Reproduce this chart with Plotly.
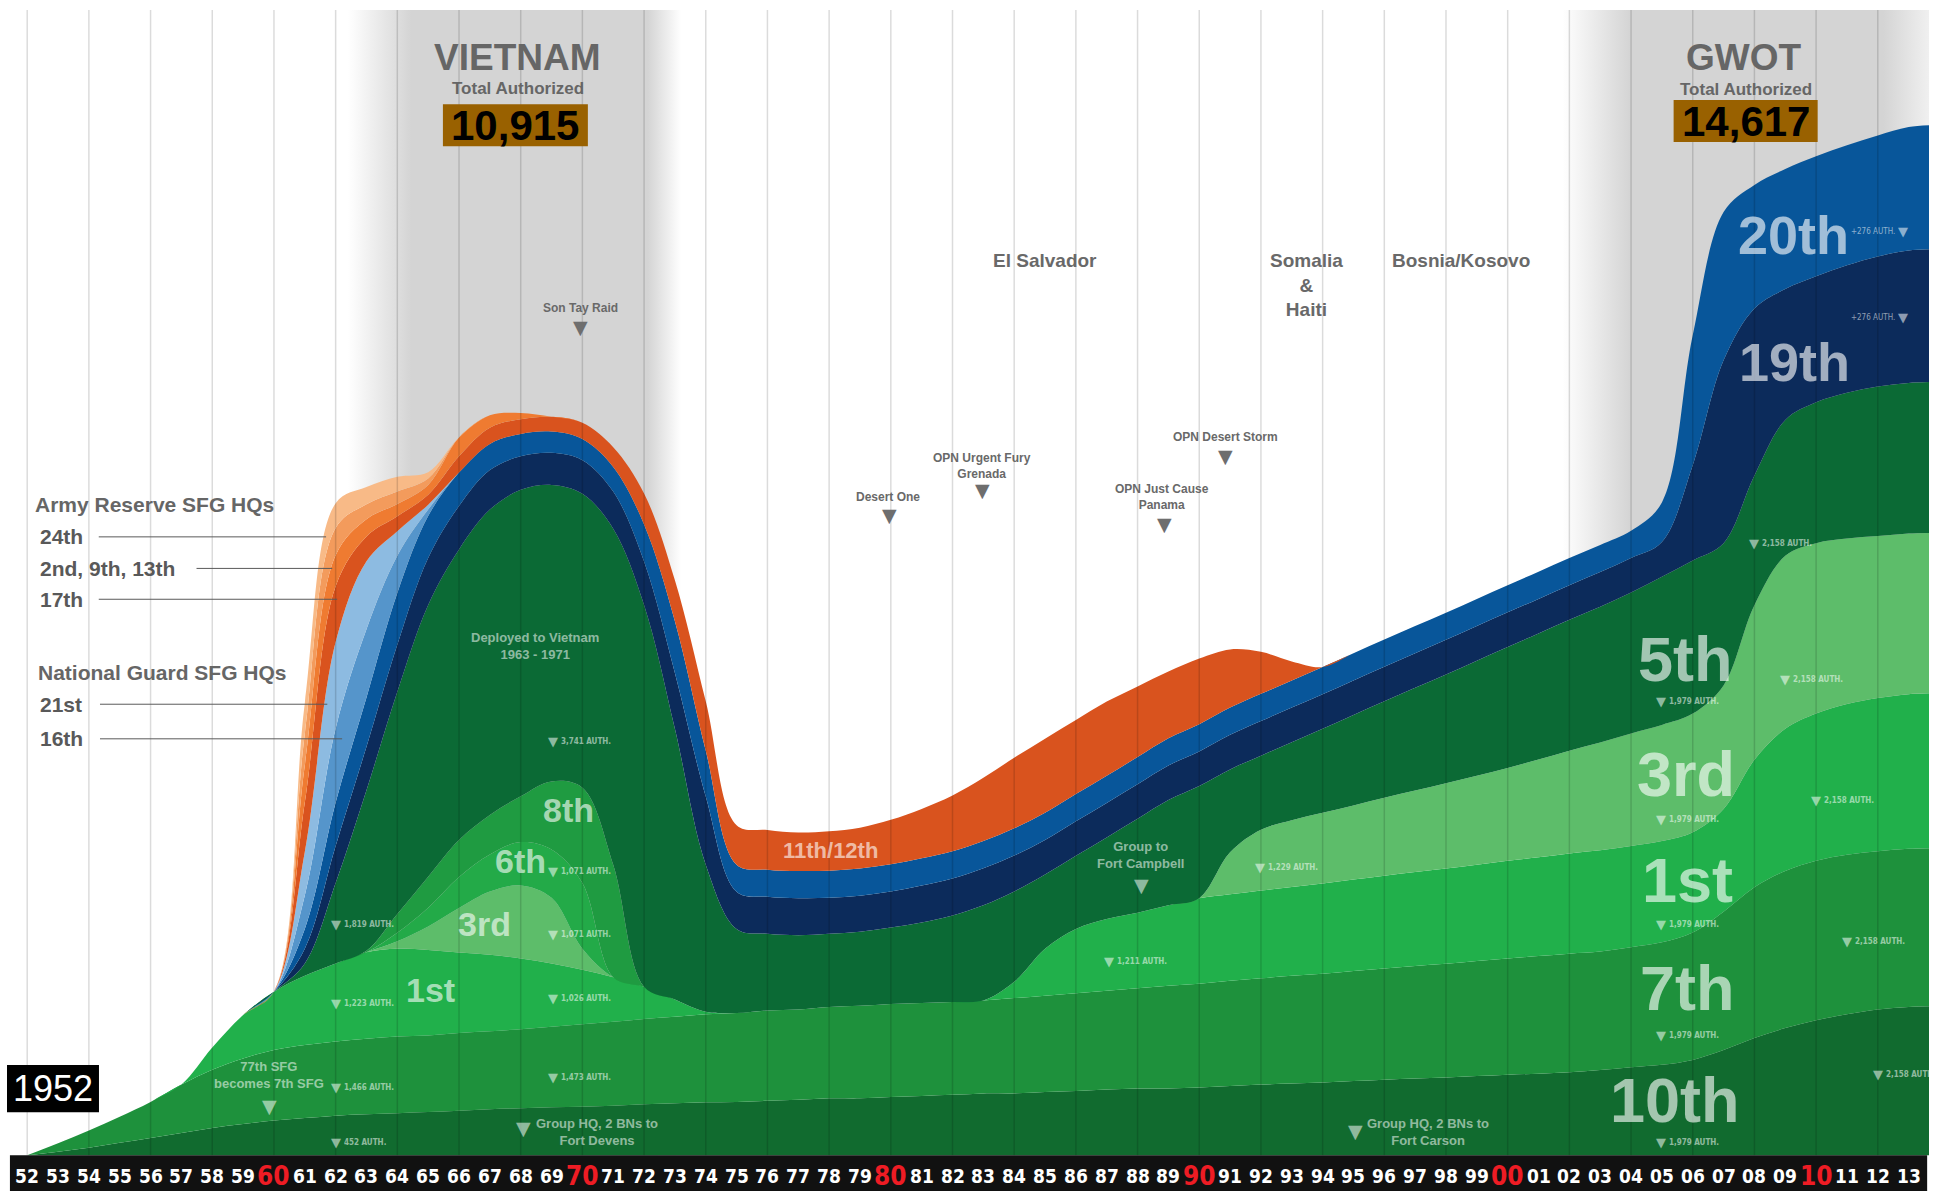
import plotly.graph_objects as go

# ---------------------------------------------------------------- data
# x positions: 1952 ... 2013, plus 2014 = right edge of the drawing
YEARS = list(range(1952, 2015))

YEAR_LABELS = ["52", "53", "54", "55", "56", "57", "58", "59", "60", "61",
               "62", "63", "64", "65", "66", "67", "68", "69", "70", "71",
               "72", "73", "74", "75", "76", "77", "78", "79", "80", "81",
               "82", "83", "84", "85", "86", "87", "88", "89", "90", "91",
               "92", "93", "94", "95", "96", "97", "98", "99", "00", "01",
               "02", "03", "04", "05", "06", "07", "08", "09", "10", "11",
               "12", "13"]
LABEL_YEARS = list(range(1952, 2014))
RED_LABELS = ["60", "70", "80", "90", "00", "10"]

# authorized strength per group
SFG_10TH = [0, 50, 105, 175, 245, 315, 385, 440, 490, 525,
            560, 580, 595, 610, 630, 650, 665, 680, 685, 700,
            720, 735, 750, 755, 770, 785, 805, 805, 825, 840,
            855, 875, 875, 895, 910, 930, 945, 945, 960, 980,
            1000, 1015, 1030, 1050, 1070, 1085, 1100, 1120, 1140, 1155,
            1175, 1205, 1245, 1280, 1350, 1490, 1660, 1800, 1910, 1995,
            2065, 2100, 2110]
SFG_7TH = [0, 120, 245, 370, 510, 685, 825, 930, 1000, 1035,
           1050, 1070, 1085, 1085, 1100, 1105, 1120, 1140, 1170, 1190,
           1210, 1225, 1245, 1260, 1280, 1280, 1295, 1310, 1315, 1315,
           1315, 1315, 1350, 1365, 1385, 1400, 1420, 1455, 1470, 1490,
           1505, 1525, 1540, 1560, 1575, 1595, 1610, 1630, 1645, 1665,
           1680, 1680, 1700, 1735, 1805, 1960, 2135, 2225, 2260, 2260,
           2240, 2240, 2240]
SFG_1ST = [0, 0, 0, 0, 0, 0, 315, 615, 825, 980,
           1105, 1225, 1245, 1210, 1140, 1085, 1000, 895, 770, 630,
           455, 245, 35, 0, 0, 0, 0, 0, 0, 0,
           0, 0, 230, 665, 910, 1015, 1070, 1140, 1210, 1225,
           1245, 1260, 1280, 1295, 1315, 1330, 1350, 1365, 1385, 1400,
           1420, 1435, 1435, 1435, 1420, 1455, 1805, 2015, 2085, 2135,
           2170, 2190, 2195]
SFG_3RD = ([0] * 12 + [105, 335, 630, 895, 1035, 930, 300] + [0] * 20 + [595] +
           [860, 945, 1000, 1050, 1105, 1155, 1210, 1260, 1315, 1385] +
           [1455, 1525, 1595, 1645, 1680, 1750, 2190, 2450, 2415, 2345] +
           [2295, 2275, 2270])
SFG_6TH = [0] * 10 + [0, 0, 120, 265, 440, 525, 615, 685, 930, 0] + [0] * 43
SFG_8TH = [0] * 10 + [0, 20, 265, 440, 525, 560, 650, 965, 1350, 1595] + [0] * 43
SFG_5TH = [0, 0, 0, 0, 0, 0, 0, 0, 0, 175,
           1140, 2275, 3150, 3850, 4115, 4325, 4340, 4200, 4165, 4760,
           5410, 3835, 2085, 1190, 1085, 1050, 1035, 1050, 1085, 1140,
           1225, 1350, 1280, 1050, 1035, 1155, 1330, 1490, 1590, 1175,
           1050, 1105, 1190, 1280, 1365, 1455, 1540, 1630, 1715, 1785,
           1855, 1925, 1995, 2100, 2170, 2015, 1840, 1925, 1995, 2065,
           2120, 2135, 2140]
SFG_19TH = ([0] * 9 + [210] +
            [525, 615, 665, 665, 615, 560, 475, 455, 475, 525] +
            [615, 790, 965, 525, 525, 525, 510, 510, 510, 525] +
            [525, 525, 510, 490, 490, 490, 490, 490, 490, 490] +
            [490] * 10 +
            [490, 490, 490, 490, 1350, 2590, 2365, 1855, 1785, 1805] +
            [1840, 1875, 1880])
SFG_20TH = ([0] * 9 + [280] +
            [615, 700, 735, 595, 475, 370, 315, 300, 300, 350] +
            [525, 735, 650, 385, 385, 385, 385, 385, 385, 385] +
            [385] * 20 +
            [385, 385, 385, 560, 1840, 2100, 1750, 1700, 1700, 1700] +
            [1715, 1750, 1760])
NG_16TH = [0] * 9 + [475] + [1050, 965, 525, 90] + [0] * 49
NG_21ST = [0] * 9 + [615] + [1225, 965, 350, 70] + [0] * 49
AR_17TH = ([0] * 9 + [700] +
           [790, 350, 210, 140, 230, 230, 210, 210, 230, 280] +
           [440, 580, 700, 560, 560, 545, 560, 580, 630, 700] +
           [790, 895, 1000, 1050, 1050, 1050, 1000, 945, 930, 825] +
           [595, 270] + [0] * 21)
AR_2ND_9TH_13TH_A = [0] * 9 + [525] + [440, 245, 175, 140, 265, 175, 90] + [0] * 46
AR_2ND_9TH_13TH_B = [0] * 9 + [440] + [385, 210, 175, 90] + [0] * 49
AR_24TH = [0] * 9 + [440] + [350, 245, 210, 90] + [0] * 49

LAYERS = [
    ("10th SFG", SFG_10TH, "#116b2f"),
    ("7th SFG", SFG_7TH, "#1e913c"),
    ("1st SFG", SFG_1ST, "#21b04b"),
    ("3rd SFG", SFG_3RD, "#5dbd6a"),
    ("6th SFG", SFG_6TH, "#23aa48"),
    ("8th SFG", SFG_8TH, "#1f9b41"),
    ("5th SFG", SFG_5TH, "#0b6a35"),
    ("19th SFG", SFG_19TH, "#0c2b5b"),
    ("20th SFG", SFG_20TH, "#08569a"),
    ("16th SFG", NG_16TH, "#5595cb"),
    ("21st SFG", NG_21ST, "#8dbbe1"),
    ("17th / 11th-12th SFG", AR_17TH, "#d9531e"),
    ("2nd, 9th, 13th SFG", AR_2ND_9TH_13TH_A, "#ef7b31"),
    ("2nd, 9th, 13th SFG ", AR_2ND_9TH_13TH_B, "#f39b5c"),
    ("24th SFG", AR_24TH, "#f8ba87"),
]

# ---------------------------------------------------------------- layout constants
X_RANGE = [1951.118, 2013.66]
Y_RANGE = [-507.5, 16222.5]
YTOP = Y_RANGE[1]
COND = "DejaVu Sans Condensed, Liberation Sans Narrow, Arial Narrow, sans-serif"
SANS = "Liberation Sans, Arial, DejaVu Sans, sans-serif"
TRI = "DejaVu Sans, sans-serif"
GRAY_TXT = "#696969"
LIGHT = "rgba(255,255,255,0.55)"
BIG = "rgba(255,255,255,0.62)"

fig = go.Figure()

# shaded era bands (Vietnam, GWOT)
for x0, x1, stops in [
    (1962.4, 1973.2, [[0, "#ffffff"], [0.19, "#d4d4d4"], [0.9, "#d4d4d4"], [1, "#ffffff"]]),
    (2001.78, 2013.66, [[0, "#ffffff"], [0.185, "#d4d4d4"], [0.875, "#d4d4d4"], [1, "#f0f0f0"]]),
]:
    fig.add_trace(go.Scatter(
        x=[x0, x1, x1, x0, x0], y=[0, 0, YTOP, YTOP, 0], mode="none", fill="toself",
        fillgradient=dict(type="horizontal", colorscale=stops),
        hoverinfo="skip", showlegend=False))

for name, vals, color in LAYERS:
    fig.add_trace(go.Scatter(
        x=YEARS, y=vals, name=name, stackgroup="sfg", mode="lines",
        line=dict(width=0, shape="spline", smoothing=1.0, color=color),
        fillcolor=color, hoverinfo="skip", showlegend=False))

shapes = []
# vertical grid lines every two years
for yr in range(1952, 2013, 2):
    shapes.append(dict(type="line", xref="x", yref="y", x0=yr, x1=yr, y0=0, y1=YTOP,
                       line=dict(color="rgba(0,0,0,0.14)", width=1.5), layer="above"))
# black year band
shapes.append(dict(type="rect", xref="x", yref="y", x0=1951.44, x1=2013.6, y0=-600, y1=0,
                   fillcolor="#111111", line=dict(width=0), layer="above"))
# total authorized boxes
for x0, x1, y0, y1 in [(1965.478, 1970.178, 14294, 14889), (2005.38, 2010.05, 14351, 14946)]:
    shapes.append(dict(type="rect", xref="x", yref="y", x0=x0, x1=x1, y0=y0, y1=y1,
                       fillcolor="#996100", line=dict(width=0), layer="above"))
# 1952 box
shapes.append(dict(type="rect", xref="x", yref="y", x0=1951.345, x1=1954.327, y0=609, y1=1276,
                   fillcolor="#000000", line=dict(width=0), layer="above"))
# leader lines for reserve / guard labels
for x0, x1, y in [(1954.32, 1961.69, 8759), (1957.49, 1961.89, 8312), (1954.32, 1962.05, 7875),
                  (1954.36, 1961.73, 6388), (1954.36, 1962.21, 5898)]:
    shapes.append(dict(type="line", xref="x", yref="y", x0=x0, x1=x1, y0=y, y1=y,
                       line=dict(color="#5a5a5a", width=1), layer="above"))

ann = []


def txt(x, y, text, size, color, family=SANS, bold=True, xanchor="center", xshift=0):
    t = f"<b>{text}</b>" if bold else text
    ann.append(dict(x=x, y=y, xref="x", yref="y", text=t, showarrow=False,
                    font=dict(size=size, color=color, family=family),
                    xanchor=xanchor, yanchor="middle", xshift=xshift, align="center"))


# year labels
for yr, lab in zip(LABEL_YEARS, YEAR_LABELS):
    red = lab in RED_LABELS
    txt(yr, -297, lab, 26 if red else 19, "#ee1c24" if red else "#ffffff", COND)

# era titles
txt(1967.91, 15555, "VIETNAM", 37, "#666666")
txt(1967.91, 15116, "Total Authorized", 17, "#666666")
txt(1967.83, 14591, "10,915", 42, "#000000")
txt(2007.66, 15555, "GWOT", 37, "#666666")
txt(2007.72, 15102, "Total Authorized", 17, "#666666")
txt(2007.715, 14648, "14,617", 42, "#000000")
txt(1952.84, 942, "1952", 36, "#ffffff", SANS, bold=False)

# theatre labels
txt(1985.0, 12670, "El Salvador", 19, GRAY_TXT)
txt(1993.49, 12320, "Somalia<br>&<br>Haiti", 19, GRAY_TXT)
txt(1998.5, 12670, "Bosnia/Kosovo", 19, GRAY_TXT)

# events
EVENTS = [("Son Tay Raid", 1969.94, 12005, 1969.94, 11725),
          ("Desert One", 1979.91, 9328, 1979.95, 9074),
          ("OPN Urgent Fury<br>Grenada", 1982.96, 9765, 1982.96, 9424),
          ("OPN Just Cause<br>Panama", 1988.80, 9319, 1988.88, 8943),
          ("OPN Desert Storm", 1990.85, 10168, 1990.85, 9905)]
for t, x, y, tx, ty in EVENTS:
    txt(x, y, t, 12, GRAY_TXT)
    txt(tx, ty, "▼", 19, "#6e6e6e", TRI, bold=False)

# reserve / guard labels
txt(1952.19, 9222, "Army Reserve SFG HQs", 21, "#666666", xanchor="left")
txt(1952.35, 8768, "24th", 21, "#595959", xanchor="left")
txt(1952.35, 8312, "2nd, 9th, 13th", 21, "#595959", xanchor="left")
txt(1952.35, 7875, "17th", 21, "#595959", xanchor="left")
txt(1952.27, 6843, "National Guard SFG HQs", 21, "#666666", xanchor="left")
txt(1952.35, 6388, "21st", 21, "#595959", xanchor="left")
txt(1952.35, 5898, "16th", 21, "#595959", xanchor="left")

# big group names
for t, x, y, s in [("20th", 2009.27, 13040, 54), ("19th", 2009.30, 11235, 54),
                   ("5th", 2005.78, 7035, 63), ("3rd", 2005.78, 5400, 63),
                   ("1st", 2005.82, 3903, 63), ("7th", 2005.82, 2363, 63),
                   ("10th", 2005.42, 788, 63), ("8th", 1969.54, 4883, 34),
                   ("6th", 1967.98, 4165, 34), ("3rd", 1966.82, 3273, 34),
                   ("1st", 1965.06, 2336, 34), ("11th/12th", 1978.03, 4323, 22)]:
    txt(x, y, t, s, BIG, SANS)

# light notes inside the areas
txt(1968.46, 7210, "Deployed to Vietnam<br>1963 - 1971", 13, LIGHT)
txt(1959.85, 1138, "77th SFG<br>becomes 7th SFG", 13, LIGHT)
txt(1959.85, 700, "▼", 19, LIGHT, TRI, bold=False)
txt(1970.46, 333, "Group HQ, 2 BNs to<br>Fort Devens", 13, LIGHT)
txt(1968.1, 385, "▼", 19, LIGHT, TRI, bold=False)
txt(1997.41, 324, "Group HQ, 2 BNs to<br>Fort Carson", 13, LIGHT)
txt(1995.05, 341, "▼", 19, LIGHT, TRI, bold=False)
txt(1988.1, 4253, "Group to<br>Fort Campbell", 13, LIGHT)
txt(1988.12, 3833, "▼", 19, LIGHT, TRI, bold=False)

# authorized-strength notes
AUTH_NOTES = [(1962.01, 3272, "1,819 AUTH."), (1962.01, 2152, "1,223 AUTH."),
              (1962.01, 962, "1,466 AUTH."), (1962.01, 175, "452 AUTH."),
              (1969.06, 5862, "3,741 AUTH."), (1969.06, 4025, "1,071 AUTH."),
              (1969.06, 3132, "1,071 AUTH."), (1969.06, 2222, "1,026 AUTH."),
              (1969.06, 1102, "1,473 AUTH."), (1987.08, 2747, "1,211 AUTH."),
              (1991.97, 4077, "1,229 AUTH."), (2004.98, 6422, "1,979 AUTH."),
              (2004.98, 4760, "1,979 AUTH."), (2004.98, 3272, "1,979 AUTH."),
              (2004.98, 1697, "1,979 AUTH."), (2004.98, 175, "1,979 AUTH."),
              (2007.99, 8662, "2,158 AUTH."), (2008.99, 6737, "2,158 AUTH."),
              (2009.99, 5022, "2,158 AUTH."), (2010.99, 3027, "2,158 AUTH."),
              (2012.0, 1137, "2,158 AUTH.")]
for x, y, t in AUTH_NOTES:
    txt(x, y, "▼", 13, LIGHT, TRI, bold=False)
    txt(x, y, t, 8, LIGHT, COND, xanchor="left", xshift=6)
for x, y, t in [(2012.83, 13090, "+276 AUTH."), (2012.83, 11865, "+276 AUTH.")]:
    txt(x, y, "▼", 13, LIGHT, TRI, bold=False)
    txt(x, y, t, 8, LIGHT, COND, bold=False, xanchor="right", xshift=-6)

fig.update_layout(
    width=1937, height=1191,
    margin=dict(l=0, r=8, t=10, b=0, pad=0),
    paper_bgcolor="#ffffff", plot_bgcolor="#ffffff",
    xaxis=dict(range=X_RANGE, visible=False, fixedrange=True),
    yaxis=dict(range=Y_RANGE, visible=False, fixedrange=True),
    shapes=shapes, annotations=ann, showlegend=False, hovermode=False,
)

fig.write_html("out.html", include_plotlyjs=True, config={"displayModeBar": False})
with open("out.html", encoding="utf-8") as f:
    html = f.read()
html = html.replace("<head>", "<head><style>html,body{margin:0;padding:0;overflow:hidden;}</style>", 1)
with open("out.html", "w", encoding="utf-8") as f:
    f.write(html)
